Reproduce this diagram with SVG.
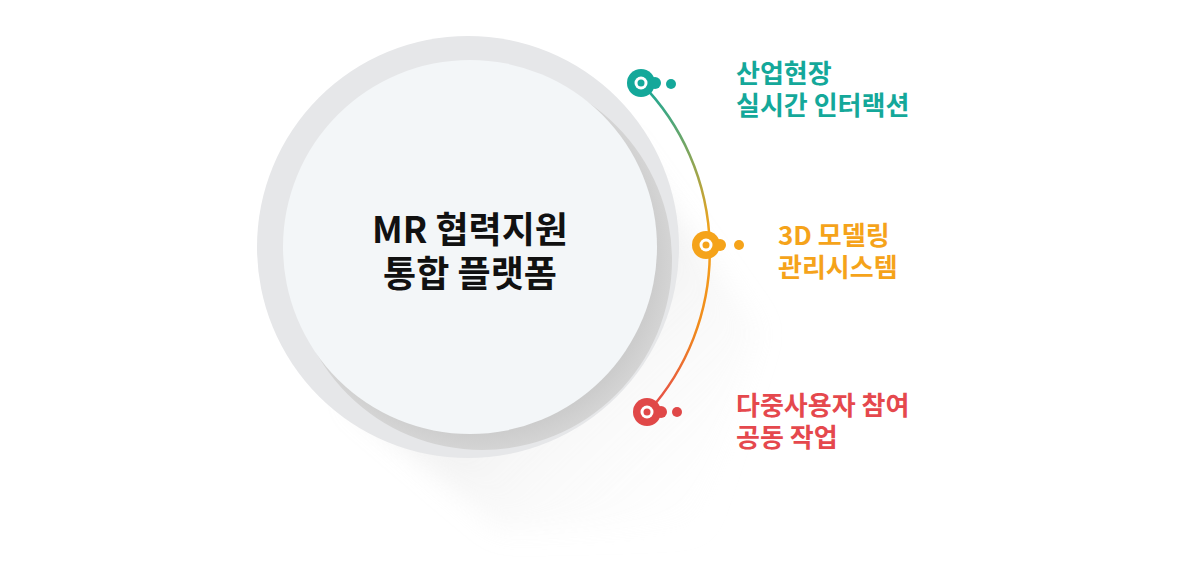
<svg xmlns="http://www.w3.org/2000/svg" width="1200" height="576" viewBox="0 0 1200 576">
<defs>
<linearGradient id="arcg" x1="0" y1="0" x2="0" y2="1" gradientUnits="objectBoundingBox">
<stop offset="0" stop-color="#14a89a"/><stop offset="0.45" stop-color="#f5a31a"/><stop offset="0.75" stop-color="#f08a1c"/><stop offset="1" stop-color="#e5484d"/>
</linearGradient>
<linearGradient id="ls" x1="0" y1="0" x2="1" y2="1">
<stop offset="0" stop-color="#aaaaaa" stop-opacity="0.9"/><stop offset="0.55" stop-color="#d8d8d8" stop-opacity="0.5"/><stop offset="1" stop-color="#fff" stop-opacity="0"/>
</linearGradient>
<radialGradient id="sh" cx="0.5" cy="0.5" r="0.5">
<stop offset="0.8" stop-color="#c4c4c4"/><stop offset="1" stop-color="#d4d4d4"/>
</radialGradient>
<filter id="blur" x="-30%" y="-30%" width="160%" height="160%"><feGaussianBlur stdDeviation="14"/></filter>
<style>
.t{font-family:"Noto Sans CJK KR","Noto Sans",sans-serif;font-weight:700}
.lab{font-size:26px}
</style>
</defs>
<rect width="1200" height="576" fill="#fff"/>
<g id="center">
<path d="M350 400 L620 140 L760 330 L700 530 L500 530 Z" fill="url(#ls)" opacity="0.55" filter="url(#blur)"/>
<circle cx="468" cy="247" r="211" fill="#e6e7e9"/>
<circle cx="482" cy="260" r="190" fill="url(#sh)"/>
<circle cx="470" cy="247" r="187" fill="#f3f6f8"/>
<text class="t" x="470" y="243" font-size="36" text-anchor="middle" fill="#111">MR 협력지원</text>
<text class="t" x="470" y="287" font-size="36" text-anchor="middle" fill="#111">통합 플랫폼</text>
</g>
<g id="connectors">
<path d="M641 83 A240 240 0 0 1 648 412" fill="none" stroke="url(#arcg)" stroke-width="2.5"/>
</g>
<g id="n1">
<circle cx="641" cy="83" r="14" fill="#14a89a"/><circle cx="655" cy="83" r="6" fill="#14a89a"/>
<circle cx="641" cy="83" r="6.5" fill="#fff"/><circle cx="641" cy="83" r="3.5" fill="#14a89a"/>
<circle cx="671" cy="84" r="5" fill="#14a89a"/>
<text class="t lab" x="736" y="83" fill="#14a89a">산업현장</text>
<text class="t lab" x="736" y="115" fill="#14a89a">실시간 인터랙션</text>
</g>
<g id="n2">
<circle cx="706" cy="245" r="14" fill="#f5a31a"/><circle cx="720" cy="245" r="6" fill="#f5a31a"/>
<circle cx="706" cy="245" r="6.5" fill="#fff"/><circle cx="706" cy="245" r="3.5" fill="#f5a31a"/>
<circle cx="739" cy="245" r="5" fill="#f5a31a"/>
<text class="t lab" x="778" y="245" fill="#f5a31a">3D 모델링</text>
<text class="t lab" x="778" y="277" fill="#f5a31a">관리시스템</text>
</g>
<g id="n3">
<circle cx="647" cy="412" r="14" fill="#e04848"/><circle cx="661" cy="412" r="6" fill="#e04848"/>
<circle cx="647" cy="412" r="6.5" fill="#fff"/><circle cx="647" cy="412" r="3.5" fill="#e04848"/>
<circle cx="677" cy="412" r="5" fill="#e04848"/>
<text class="t lab" x="736" y="415" fill="#e5484d">다중사용자 참여</text>
<text class="t lab" x="736" y="447" fill="#e5484d">공동 작업</text>
</g>
</svg>
